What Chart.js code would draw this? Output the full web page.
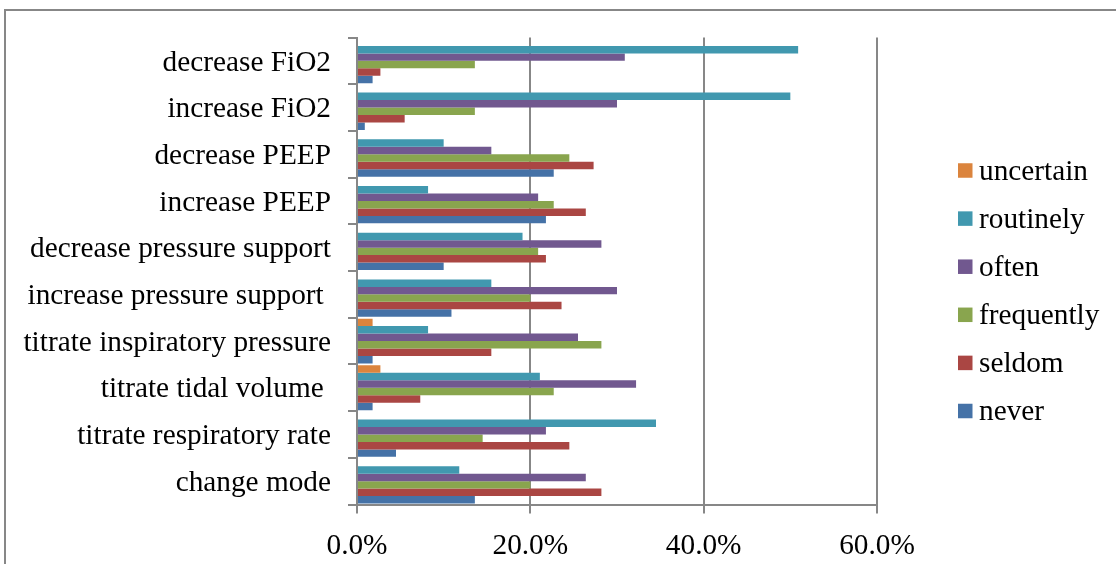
<!DOCTYPE html>
<html>
<head>
<meta charset="utf-8">
<script src="https://cdn.jsdelivr.net/npm/chart.js@4.4.1/dist/chart.umd.min.js"></script>
<style>
  html, body { margin: 0; padding: 0; background: #ffffff; }
  #wrap { position: relative; width: 1116px; height: 564px; overflow: hidden; background: #ffffff; }
  #frame { position: absolute; left: 4px; top: 9px; width: 1300px; height: 700px; border: 2px solid #878787; box-sizing: border-box; }
  #chart { position: absolute; left: 0; top: 0; }
</style>
</head>
<body>
<div id="wrap">
  <div id="frame"></div>
  <canvas id="chart" width="1116" height="564"></canvas>
</div>
<script>
// Ventilator adjustments, share of respondents (%) per response
const categories = [
  'decrease FiO2',
  'increase FiO2',
  'decrease PEEP',
  'increase PEEP',
  'decrease pressure support',
  'increase pressure support ',
  'titrate inspiratory pressure',
  'titrate tidal volume ',
  'titrate respiratory rate',
  'change mode'
];

const uncertain  = [0, 0, 0, 0, 0, 0, 1.8, 2.7, 0, 0];
const routinely  = [50.9, 50.0, 10.0, 8.2, 19.1, 15.5, 8.2, 21.1, 34.5, 11.8];
const often      = [30.9, 30.0, 15.5, 20.9, 28.2, 30.0, 25.5, 32.2, 21.8, 26.4];
const frequently = [13.6, 13.6, 24.5, 22.7, 20.9, 20.0, 28.2, 22.7, 14.5, 20.0];
const seldom     = [2.7, 5.5, 27.3, 26.4, 21.8, 23.6, 15.5, 7.3, 24.5, 28.2];
const never      = [1.8, 0.9, 22.7, 21.8, 10.0, 10.9, 1.8, 1.8, 4.5, 13.6];

const seriesNames  = ['uncertain', 'routinely', 'often', 'frequently', 'seldom', 'never'];
const seriesValues = [uncertain, routinely, often, frequently, seldom, never];
const seriesColors = ['#DB843D', '#4198AF', '#71588F', '#89A54E', '#AA4643', '#4572A7'];

const xTicks = [0, 20, 40, 60];

const FONT = '"Liberation Serif", "Times New Roman", serif';
const FONT_SIZE = 29.3;
const GRID = '#878787';

// Legend drawn as a vertical list to the right of the plot
const sideLegend = {
  id: 'sideLegend',
  afterDraw(chart) {
    const ctx = chart.ctx;
    ctx.save();
    ctx.font = FONT_SIZE + 'px ' + FONT;
    ctx.textBaseline = 'middle';
    ctx.textAlign = 'left';
    const x0 = 958, y0 = 170.5, step = 48.1, box = 14.5;
    chart.data.datasets.forEach((ds, i) => {
      const cy = y0 + i * step;
      ctx.fillStyle = ds.backgroundColor;
      ctx.fillRect(x0, cy - box / 2, box, box);
      ctx.fillStyle = '#000000';
      ctx.fillText(ds.label, 979, cy + 1.5);
    });
    ctx.restore();
  }
};

new Chart(document.getElementById('chart'), {
  type: 'bar',
  data: {
    labels: categories,
    datasets: seriesNames.map((name, i) => ({
      label: name,
      data: seriesValues[i],
      backgroundColor: seriesColors[i],
      borderWidth: 0,
      barPercentage: 1.0,
      categoryPercentage: 0.96
    }))
  },
  options: {
    indexAxis: 'y',
    responsive: false,
    animation: false,
    events: [],
    layout: { padding: { left: 0, right: 239, top: 37.5, bottom: 0 } },
    plugins: {
      legend: { display: false },
      tooltip: { enabled: false }
    },
    scales: {
      x: {
        min: 0,
        max: 60,
        z: 1,
        afterBuildTicks(scale) { scale.ticks = xTicks.map(v => ({ value: v })); },
        afterFit(scale) { scale.height = 59.5; },
        grid: { color: GRID, lineWidth: 2, tickLength: 9, drawOnChartArea: true },
        border: { display: true, color: GRID, width: 2 },
        ticks: {
          color: '#000000',
          padding: 15,
          font: { family: FONT, size: FONT_SIZE },
          callback: v => v.toFixed(1) + '%'
        }
      },
      y: {
        afterFit(scale) { scale.width = 357; },
        grid: { color: GRID, lineWidth: 2, tickLength: 9, drawOnChartArea: false, offset: true },
        border: { display: true, color: GRID, width: 2 },
        ticks: {
          color: '#000000',
          padding: 17,
          labelOffset: 2,
          font: { family: FONT, size: FONT_SIZE }
        }
      }
    }
  },
  plugins: [sideLegend]
});
</script>
</body>
</html>
